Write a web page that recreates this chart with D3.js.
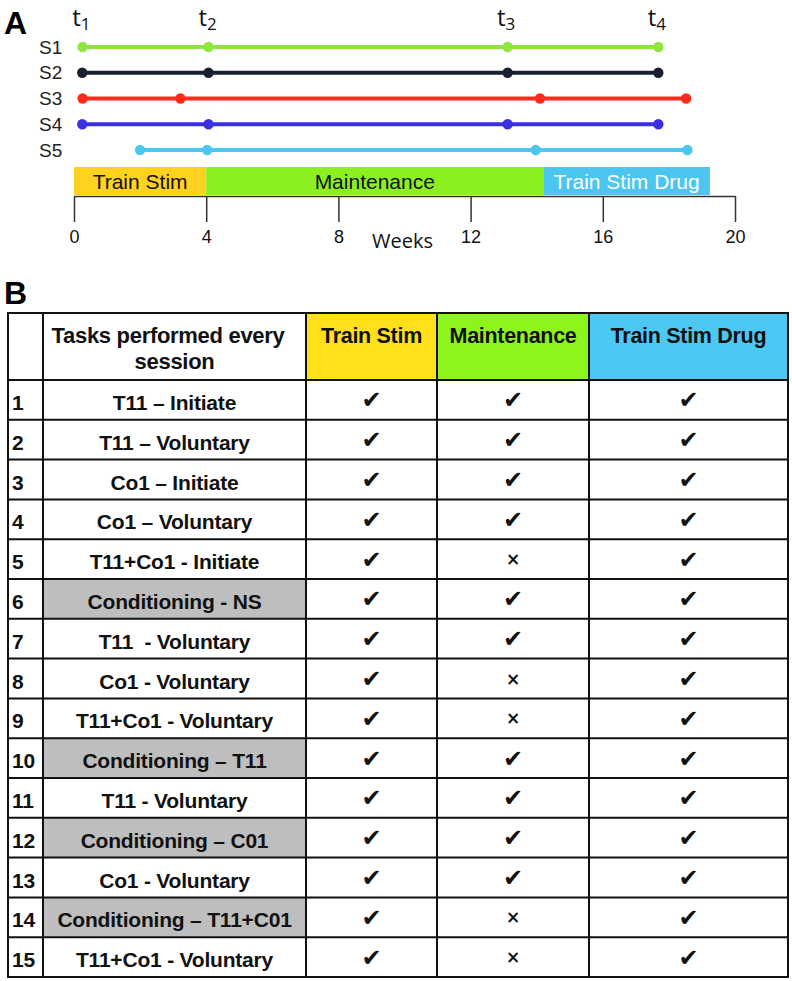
<!DOCTYPE html>
<html><head><meta charset="utf-8">
<script src="https://cdn.jsdelivr.net/npm/d3@7/dist/d3.min.js"></script>
<style>body{margin:0;background:#fff}svg{display:block}</style>
</head><body>
<svg id="c" width="792" height="981"></svg>
<script>
// ---- Panel A data ----
const sessions = ["S1","S2","S3","S4","S5"];
const sessionColors = ["#8fe63e","#1b2030","#ff2a1c","#3b2fe0","#4cc8ef"];
const sessionTimes = [
  [0.26, 4.07, 13.12, 17.68],
  [0.25, 4.07, 13.12, 17.68],
  [0.26, 3.22, 14.10, 18.52],
  [0.25, 4.07, 13.12, 17.68],
  [2.00, 4.03, 13.97, 18.56]
];
const timeLabels = ["1","2","3","4"];
const timeLabelWeeks = [0.25, 4.07, 13.10, 17.66];
const phases = ["Train Stim","Maintenance","Train Stim Drug"];
const phaseStart = [0, 4, 14.2];
const phaseEnd = [4, 14.2, 19.24];
const phaseColors = ["#ffd21f","#8cf020","#4cc6f0"];
const phaseTextColors = ["#111","#111","#fff"];
const weekTicks = [0,4,8,12,16,20];

// ---- Panel B data ----
const tableHeaders = ["Train Stim","Maintenance","Train Stim Drug"];
const headerColors = ["#ffe01a","#8ef51c","#4cc8f2"];
const tasks = ["T11 \u2013 Initiate","T11 \u2013 Voluntary","Co1 \u2013 Initiate","Co1 \u2013 Voluntary",
  "T11+Co1 - Initiate","Conditioning - NS","T11  - Voluntary","Co1 - Voluntary",
  "T11+Co1 - Voluntary","Conditioning \u2013 T11","T11 - Voluntary","Conditioning \u2013 C01",
  "Co1 - Voluntary","Conditioning \u2013 T11+C01","T11+Co1 - Voluntary"];
const taskShaded = [0,0,0,0,0,1,0,0,0,1,0,1,0,1,0];
const trainStimDone =   [1,1,1,1,1,1,1,1,1,1,1,1,1,1,1];
const maintenanceDone = [1,1,1,1,0,1,1,0,0,1,1,1,1,0,0];
const drugDone =        [1,1,1,1,1,1,1,1,1,1,1,1,1,1,1];

const svg = d3.select("#c");
const font = "Liberation Sans, Arial, sans-serif";
const x = d3.scaleLinear().domain([0,20]).range([74,735]);

// Panel label A
svg.append("text").attr("x",4).attr("y",34).attr("font-family",font).attr("font-weight","bold").attr("font-size",32).text("A");

// time labels
const tl = svg.append("g").selectAll("text").data(timeLabels).join("text")
  .attr("x",(d,i)=>x(timeLabelWeeks[i])-10).attr("y",26)
  .attr("font-family","Open Sans").attr("font-size",24).attr("fill","#111");
tl.append("tspan").text("t");
tl.append("tspan").attr("font-size",17).attr("dy",4).text(d=>d);

const rowY = d3.scalePoint().domain(sessions).range([47,150]);
const sg = svg.append("g").selectAll("g").data(sessions).join("g");
sg.append("text").attr("x",39).attr("y",d=>rowY(d)+6.5).attr("font-family",font).attr("font-size",19).attr("fill","#222").text(d=>d);
sg.append("line").attr("x1",(d,i)=>x(sessionTimes[i][0])).attr("x2",(d,i)=>x(sessionTimes[i][3]))
  .attr("y1",d=>rowY(d)).attr("y2",d=>rowY(d)).attr("stroke",(d,i)=>sessionColors[i]).attr("stroke-width",4);
sg.each(function(d,i){
  d3.select(this).selectAll("circle").data(sessionTimes[i]).join("circle")
    .attr("cx",v=>x(v)).attr("cy",rowY(d)).attr("r",5.2).attr("fill",sessionColors[i]);
});

// phases
const pg = svg.append("g").selectAll("g").data(phases).join("g");
pg.append("rect").attr("x",(d,i)=>x(phaseStart[i])).attr("width",(d,i)=>x(phaseEnd[i])-x(phaseStart[i]))
  .attr("y",167).attr("height",28).attr("fill",(d,i)=>phaseColors[i]);
pg.append("text").attr("x",(d,i)=>(x(phaseStart[i])+x(phaseEnd[i]))/2).attr("y",189).attr("text-anchor","middle")
  .attr("font-family",font).attr("font-size",21).attr("fill",(d,i)=>phaseTextColors[i]).text(d=>d);

// axis
const ax = svg.append("g").attr("transform","translate(0,196)")
  .call(d3.axisBottom(x).tickValues(weekTicks).tickSize(26).tickSizeOuter(0).tickPadding(8));
ax.select(".domain").attr("stroke","#333").attr("stroke-width",1.5);
ax.selectAll(".tick line").attr("stroke","#333").attr("stroke-width",1.5);
ax.selectAll(".tick text").attr("font-family",font).attr("font-size",18).attr("fill","#111");
svg.append("text").attr("x",372).attr("y",248).attr("font-family","Open Sans").attr("font-size",20).attr("fill","#111").text("Weeks");

// Panel B
svg.append("text").attr("x",4).attr("y",304).attr("font-family",font).attr("font-weight","bold").attr("font-size",32).text("B");

const colEdges = [8,43,306,437,589,788];
const tableTop = 313, headBottom = 380, tableBottom = 977;
const ry = d3.scaleBand().domain(d3.range(tasks.length)).range([headBottom,tableBottom]);
const tb = svg.append("g");

// header colored cells
tb.selectAll("rect.h").data(tableHeaders).join("rect").attr("class","h")
  .attr("x",(d,i)=>colEdges[i+2]).attr("width",(d,i)=>colEdges[i+3]-colEdges[i+2])
  .attr("y",tableTop).attr("height",headBottom-tableTop).attr("fill",(d,i)=>headerColors[i]);
tb.selectAll("text.h").data(tableHeaders).join("text").attr("class","h")
  .attr("x",(d,i)=>(colEdges[i+2]+colEdges[i+3])/2).attr("y",343).attr("text-anchor","middle")
  .attr("font-family",font).attr("font-weight","bold").attr("font-size",21.5).attr("letter-spacing",-0.3).attr("fill","#111").text(d=>d);
const th = tb.append("text").attr("text-anchor","middle")
  .attr("font-family",font).attr("font-weight","bold").attr("font-size",22).attr("letter-spacing",-0.3).attr("fill","#111");
th.append("tspan").attr("x",168).attr("y",343).text("Tasks performed every");
th.append("tspan").attr("x",(colEdges[1]+colEdges[2])/2).attr("y",369).text("session");

// shaded task cells
tb.selectAll("rect.s").data(tasks.map((t,i)=>i).filter(i=>taskShaded[i])).join("rect").attr("class","s")
  .attr("x",colEdges[1]).attr("width",colEdges[2]-colEdges[1]).attr("y",i=>ry(i)).attr("height",ry.bandwidth()).attr("fill","#bebebe");

// row numbers and task names
tb.selectAll("text.n").data(tasks).join("text").attr("class","n")
  .attr("x",12).attr("y",(d,i)=>ry(i)+ry.bandwidth()/2+10).attr("font-family",font).attr("font-weight","bold")
  .attr("font-size",21).attr("letter-spacing",-0.3).attr("fill","#111").text((d,i)=>i+1);
tb.selectAll("text.t").data(tasks).join("text").attr("class","t")
  .attr("x",(colEdges[1]+colEdges[2])/2).attr("y",(d,i)=>ry(i)+ry.bandwidth()/2+10).attr("text-anchor","middle")
  .attr("font-family",font).attr("font-weight","bold").attr("font-size",21).attr("letter-spacing",-0.2)
  .attr("fill","#111").style("white-space","pre").text(d=>d);

// marks
const markCols = [trainStimDone, maintenanceDone, drugDone];
markCols.forEach((arr,c)=>{
  tb.selectAll("text.m"+c).data(arr).join("text").attr("class","m"+c)
    .attr("x",(colEdges[c+2]+colEdges[c+3])/2).attr("y",(d,i)=>ry(i)+ry.bandwidth()/2+(d?8.5:6)).attr("text-anchor","middle")
    .attr("font-family","DejaVu Sans").attr("font-size",d=>d?24:17).attr("font-weight","bold").attr("fill","#111")
    .text(d=>d?"\u2714":"\u00d7");
});

// grid lines
const hl = [tableTop, headBottom].concat(d3.range(1,tasks.length).map(i=>ry(i))).concat([tableBottom]);
tb.selectAll("line.r").data(hl).join("line").attr("class","r").attr("x1",colEdges[0]-1).attr("x2",colEdges[5]+1)
  .attr("y1",d=>d).attr("y2",d=>d).attr("stroke","#111").attr("stroke-width",2);
tb.selectAll("line.c").data(colEdges).join("line").attr("class","c").attr("x1",d=>d).attr("x2",d=>d)
  .attr("y1",tableTop).attr("y2",tableBottom).attr("stroke","#111").attr("stroke-width",2);
</script>
</body></html>
